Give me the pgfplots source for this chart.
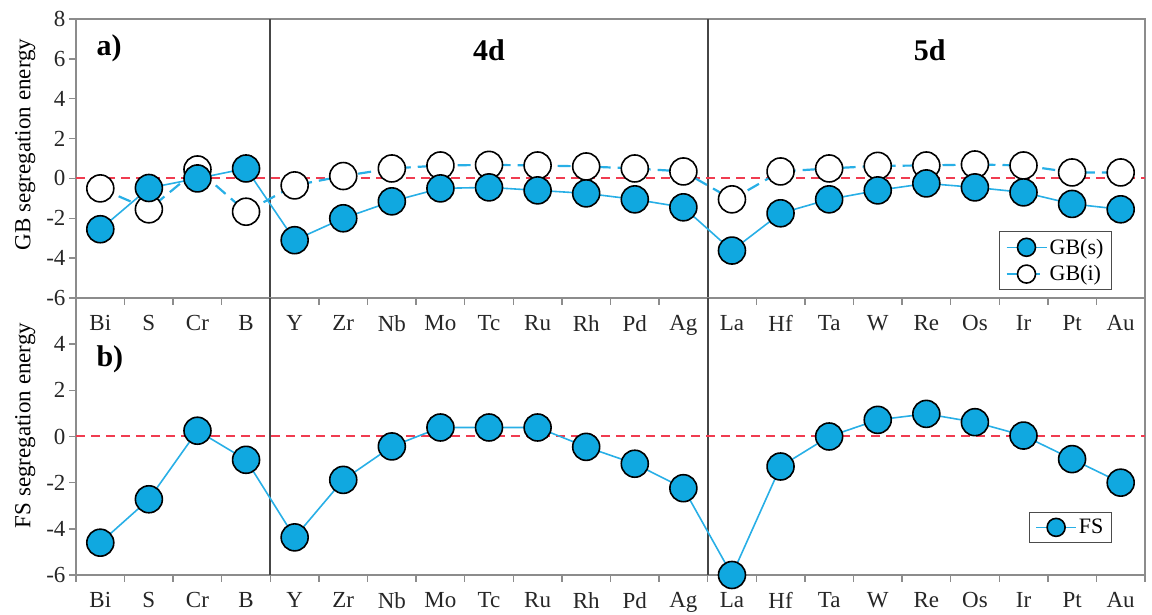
\documentclass[border=0pt]{standalone}
\usepackage{fontspec}
\setmainfont{Liberation Serif}
\usepackage{pgfplots}
\pgfplotsset{compat=1.18}
\definecolor{cy}{RGB}{16,168,224}
\definecolor{cyl}{RGB}{40,175,230}
\definecolor{fr}{RGB}{140,140,140}
\definecolor{sep}{RGB}{70,70,70}
\definecolor{rd}{RGB}{240,60,80}
\pgfplotsset{
 common/.style={
  scale only axis, width=1069pt, xmin=-0.5, xmax=21.5,
  xtick={0,...,21},
  xticklabels={Bi,S,Cr,B,Y,Zr,Nb,Mo,Tc,Ru,Rh,Pd,Ag,La,Hf,Ta,W,Re,Os,Ir,Pt,Au},
  major x tick style={draw=none},
  minor xtick={-0.5,0.5,...,21.5},
  minor tick length=7pt,
  major tick length=7pt,
  tick align=outside,
  xtick pos=bottom, ytick pos=left,
  axis line style={draw=fr, line width=1.4pt},
  tick style={fr, line width=1.4pt},
  tick label style={font=\fontsize{23}{26}\selectfont, text=black!85},
  xticklabel style={yshift=-7pt},
  label style={font=\fontsize{23}{26}\selectfont},
  /pgf/number format/assume math mode=true,
  clip=false,
  legend style={draw=black!70, line width=0.9pt, font=\fontsize{22}{26}\selectfont, inner xsep=6pt, inner ysep=5pt, row sep=6pt},
  legend cell align=left,
  legend image code/.code={\draw[mark repeat=2,mark phase=2,##1,mark size=9pt] plot coordinates {(0pt,0pt)(20pt,0pt)(40pt,0pt)};},
 },
 sstyle/.style={color=cyl, line width=1.6pt, mark=*, mark size=13.5pt, mark options={solid, fill=cy, draw=black, line width=1.6pt}},
 istyle/.style={color=cyl, line width=2.2pt, dash pattern=on 13pt off 7pt, mark=*, mark size=13.5pt, mark options={solid, fill=white, draw=black, line width=1.6pt}},
}
\begin{document}
\begin{tikzpicture}
\useasboundingbox (0,0) rectangle (1152pt,615pt);
\begin{axis}[common, at={(76pt,317pt)}, anchor=south west, height=279pt,
  ymin=-6, ymax=8, ytick={-6,-4,...,8},
  ylabel={GB segregation energy},
  ylabel style={at={(axis description cs:-0.0475,0.55)}, anchor=center},
  reverse legend,
  legend style={at={(0.969,0.029)}, anchor=south east}]
\draw[sep, line width=2pt] (axis cs:3.5,-6) -- (axis cs:3.5,8);
\draw[sep, line width=2pt] (axis cs:12.5,-6) -- (axis cs:12.5,8);
\addplot[rd, line width=2pt, dash pattern=on 9pt off 6pt, forget plot] coordinates {(-0.5,0) (21.5,0)};
\addplot[istyle] coordinates {(0,-0.5) (1,-1.55) (2,0.45) (3,-1.67) (4,-0.35) (5,0.12) (6,0.5) (7,0.65) (8,0.68) (9,0.65) (10,0.6) (11,0.5) (12,0.35) (13,-1.05) (14,0.35) (15,0.5) (16,0.63) (17,0.65) (18,0.7) (19,0.65) (20,0.3) (21,0.3)};
\addlegendentry{GB(i)}
\addplot[sstyle] coordinates {(0,-2.55) (1,-0.48) (2,0.0) (3,0.5) (4,-3.1) (5,-2.0) (6,-1.15) (7,-0.5) (8,-0.45) (9,-0.6) (10,-0.75) (11,-1.05) (12,-1.45) (13,-3.62) (14,-1.75) (15,-1.05) (16,-0.6) (17,-0.25) (18,-0.45) (19,-0.7) (20,-1.28) (21,-1.55)};
\addlegendentry{GB(s)}
\node[font=\fontsize{30}{34}\selectfont\bfseries, anchor=west] at (axis cs:-0.15,6.55) {a)};
\node[font=\fontsize{30}{34}\selectfont\bfseries] at (axis cs:8,6.45) {4d};
\node[font=\fontsize{30}{34}\selectfont\bfseries] at (axis cs:17.07,6.45) {5d};
\end{axis}
\begin{axis}[common, at={(76pt,40pt)}, anchor=south west, height=277pt,
  ymin=-6, ymax=6, ytick={-6,-4,...,4},
  ylabel={FS segregation energy},
  ylabel style={at={(axis description cs:-0.0475,0.54)}, anchor=center},
  legend style={at={(0.969,0.116)}, anchor=south east}]
\draw[sep, line width=2pt] (axis cs:3.5,-6) -- (axis cs:3.5,6);
\draw[sep, line width=2pt] (axis cs:12.5,-6) -- (axis cs:12.5,6);
\addplot[rd, line width=2pt, dash pattern=on 9pt off 6pt, forget plot] coordinates {(-0.5,0) (21.5,0)};
\addplot[sstyle] coordinates {(0,-4.6) (1,-2.72) (2,0.25) (3,-1.01) (4,-4.37) (5,-1.88) (6,-0.43) (7,0.39) (8,0.39) (9,0.39) (10,-0.45) (11,-1.18) (12,-2.24) (13,-6.0) (14,-1.3) (15,0.0) (16,0.72) (17,0.98) (18,0.62) (19,0.04) (20,-0.98) (21,-2.0)};
\addlegendentry{FS}
\node[font=\fontsize{30}{34}\selectfont\bfseries, anchor=west] at (axis cs:-0.15,3.33) {b)};
\end{axis}
\end{tikzpicture}
\end{document}
